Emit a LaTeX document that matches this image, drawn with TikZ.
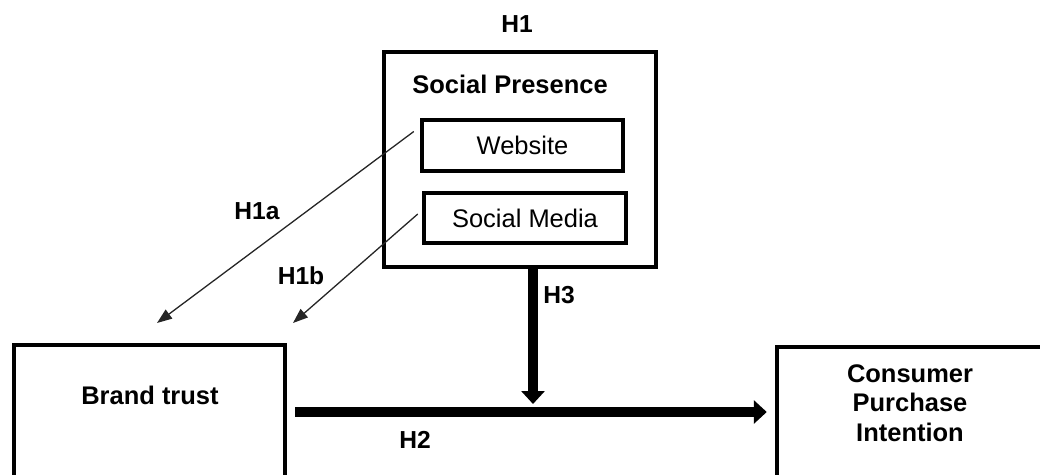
\documentclass[tikz,border=0pt]{standalone}
\usepackage{fontspec}
\setmainfont{Liberation Sans}
\usetikzlibrary{arrows.meta}

\begin{document}
\begin{tikzpicture}[x=0.02cm, y=-0.02cm,
    box/.style={draw, line width=0.09cm, inner sep=0pt},
    lbl/.style={font=\bfseries\fontsize{14.5}{16.8}\selectfont, align=center, inner sep=0pt},
    hyp/.style={font=\bfseries\fontsize{14}{16}\selectfont, inner sep=0pt},
    subbox/.style={font=\fontsize{14.5}{17}\selectfont},
    thinarrow/.style={-{Triangle[length=0.3cm, width=0.22cm]}, line width=0.026cm, black!85},
    boldarrow/.style={-{Triangle[length=0.26cm, width=0.46cm]}, line width=0.2cm}]

    \useasboundingbox (0,0) rectangle (1040,474);
    \clip (0,0) rectangle (1040,474);

    \node[box, minimum width=5.44cm, minimum height=4.30cm] (sp) at (520,159.5) {};
    \node[box, subbox, minimum width=4.02cm, minimum height=1.02cm] (web) at (522.5,145.5) {Website};
    \node[box, subbox, minimum width=4.04cm, minimum height=1.0cm] (sm) at (525,218) {Social Media};
    \node[box, minimum width=5.42cm, minimum height=2.68cm] (trust) at (149.5,412) {};
    \node[box, minimum width=5.32cm, minimum height=2.68cm] (cpi) at (910,414) {};

    \node[lbl] (sptext) at (510,84) {Social Presence};
    \node[lbl] (trusttext) at (150,395) {Brand trust};
    \node[lbl] (cpitext) at (910,403) {Consumer\\Purchase\\Intention};

    \node[hyp] (h1) at (517,24) {H1};
    \node[hyp] (h1a) at (257,211) {H1a};
    \node[hyp] (h1b) at (301,276) {H1b};
    \node[hyp] (h3) at (559,295) {H3};
    \node[hyp] (h2) at (415,440) {H2};

    \coordinate (h1aend) at (157,323);
    \coordinate (h1bend) at (293,323);
    \coordinate (h3end) at (533,404);

    \draw[thinarrow] ([shift={(-6,-14)}]web.west) -- (h1aend);
    \draw[thinarrow] ([shift={(-4,-4)}]sm.west) -- (h1bend);
    \draw[boldarrow] (sp.south -| h3end) -- (h3end);
    \draw[boldarrow] ([shift={(8,0)}]trust.east) -- ([shift={(-8,0)}]cpi.west |- trust.east);

\end{tikzpicture}
\end{document}
